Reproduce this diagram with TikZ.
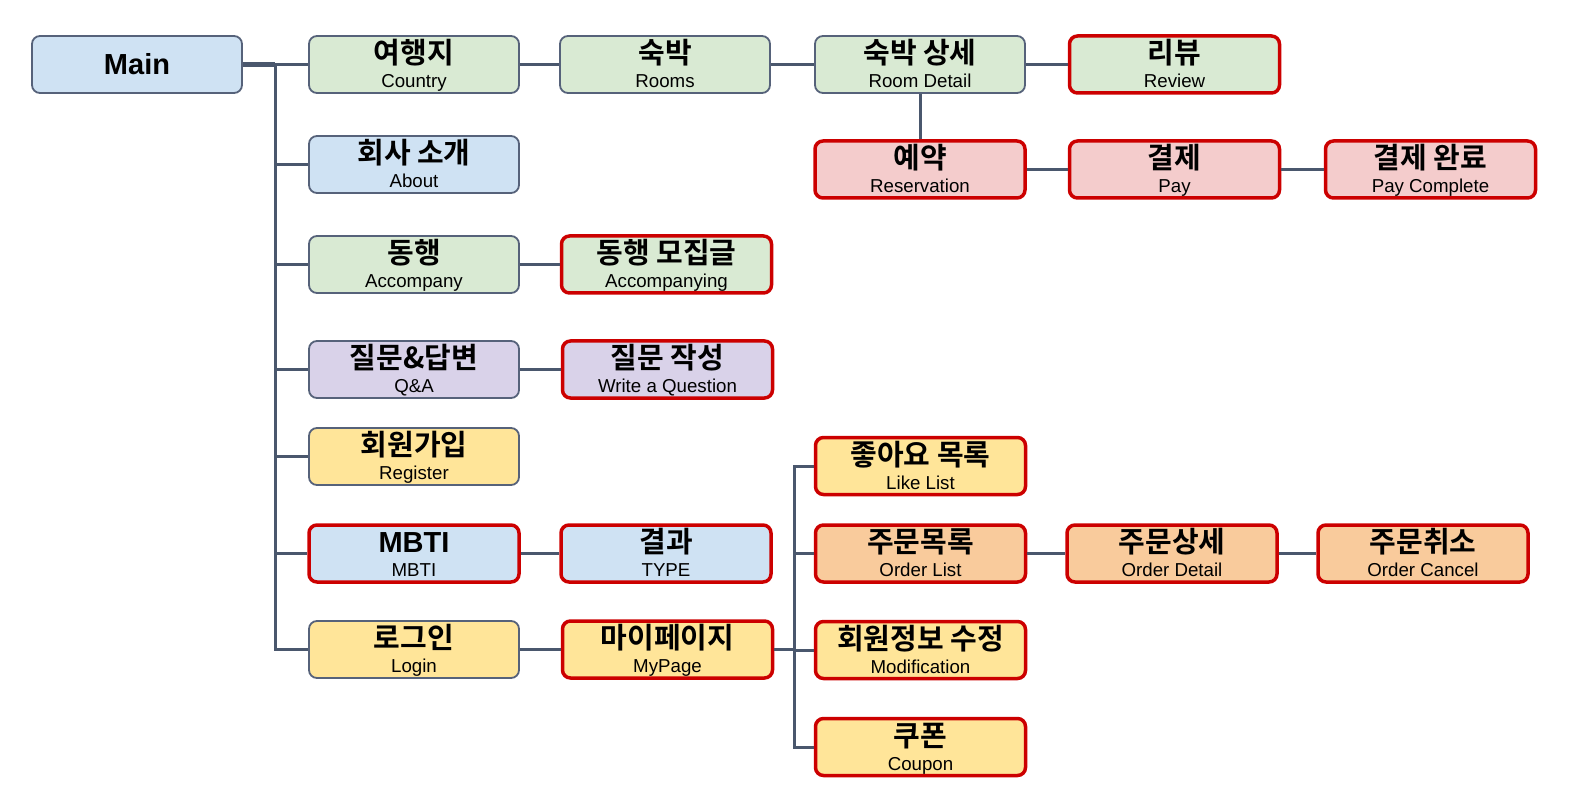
\documentclass[tikz,border=0pt]{standalone}
\usepackage{fontspec}
\setmainfont{Liberation Sans}
\newfontfamily\kor{Noto Sans CJK KR}[BoldFont={Noto Sans CJK KR Bold}]

\definecolor{cgreen}{HTML}{D9EAD3}
\definecolor{cblue}{HTML}{CFE2F3}
\definecolor{cpink}{HTML}{F4CCCC}
\definecolor{cpurple}{HTML}{D9D2E9}
\definecolor{cyellow}{HTML}{FFE599}
\definecolor{corange}{HTML}{F9CB9C}
\definecolor{edge}{HTML}{56627A}
\definecolor{wire}{HTML}{4A576D}
\definecolor{hotred}{HTML}{CC0000}

\tikzset{
  page/.style={draw=edge,line width=1.8pt,rounded corners=8pt,
    minimum width=210pt,minimum height=57pt,inner sep=0pt},
  cool/.style={},
  hot/.style={draw=hotred,line width=3.5pt},
  title/.style={font=\kor\bfseries\fontsize{29}{31}\selectfont,inner sep=0pt,anchor=base},
  sub/.style={font=\fontsize{18.7}{22}\selectfont,inner sep=0pt,anchor=base},
  conn/.style={draw=wire,line width=3pt},
}

\begin{document}
\begin{tikzpicture}[x=1pt,y=-1pt]
\useasboundingbox (0,0) rectangle (1588,810);

\node[page,fill=cblue] (main) at (137,64.5) {};
\node[font=\bfseries\fontsize{29}{32}\selectfont,inner sep=0pt,anchor=base] (main-t)
  at ([yshift=-10.4pt]main.center) {Main};

% pages
\foreach \n/\x/\y/\c/\b/\k/\e in {
  country/414/64.5/cgreen/cool/여행지/Country,
  rooms/665/64.5/cgreen/cool/숙박/Rooms,
  roomdetail/920/64.5/cgreen/cool/숙박 상세/Room Detail,
  review/1174.5/64.5/cgreen/hot/리뷰/Review,
  about/414/164.5/cblue/cool/회사 소개/About,
  reservation/920/169.5/cpink/hot/예약/Reservation,
  pay/1174.5/169.5/cpink/hot/결제/Pay,
  paycomplete/1430.5/169.5/cpink/hot/결제 완료/Pay Complete,
  accompany/414/264.5/cgreen/cool/동행/Accompany,
  accompanying/666.5/264.5/cgreen/hot/동행 모집글/Accompanying,
  qna/414/369.5/cpurple/cool/질문\&답변/Q\&A,
  writeq/667.5/369.5/cpurple/hot/질문 작성/Write a Question,
  register/414/456.5/cyellow/cool/회원가입/Register,
  mbti/414/553.5/cblue/hot/\rmfamily MBTI/MBTI,
  type/666/553.5/cblue/hot/결과/TYPE,
  login/414/649.5/cyellow/cool/로그인/Login,
  mypage/667.5/649.5/cyellow/hot/마이페이지/MyPage,
  likelist/920.5/466/cyellow/hot/좋아요 목록/Like List,
  orderlist/920.5/553.5/corange/hot/주문목록/Order List,
  orderdetail/1172/553.5/corange/hot/주문상세/Order Detail,
  ordercancel/1423/553.5/corange/hot/주문취소/Order Cancel,
  modification/920.5/650/cyellow/hot/회원정보 수정/Modification,
  coupon/920.5/747/cyellow/hot/쿠폰/Coupon}{
  \node[page,fill=\c,\b] (\n) at (\x,\y) {};
  \node[title] (\n-k) at ([yshift=1pt]\n.center) {\k};
  \node[sub] (\n-e) at ([yshift=-23pt]\n.center) {\e};
}

% links
\coordinate (trunk) at (275,64.5);
\coordinate (hub) at (794,649.5);
\draw[conn,line width=4.5pt] (main) -- (trunk);
\draw[conn] (trunk) -- (country);
\draw[conn] (trunk) |- (login);
\foreach \n in {about,accompany,qna,register,mbti}
  \draw[conn] (trunk |- \n) -- (\n);
\foreach \a/\b in {country/rooms,rooms/roomdetail,roomdetail/review,
  roomdetail/reservation,reservation/pay,pay/paycomplete,
  accompany/accompanying,qna/writeq,mbti/type,login/mypage,
  orderlist/orderdetail,orderdetail/ordercancel}
  \draw[conn] (\a) -- (\b);
\draw[conn] (mypage) -- (hub);
\draw[conn] (likelist) -| (hub |- coupon) -- (coupon);
\foreach \n in {orderlist,modification}
  \draw[conn] (hub |- \n) -- (\n);
\end{tikzpicture}
\end{document}
